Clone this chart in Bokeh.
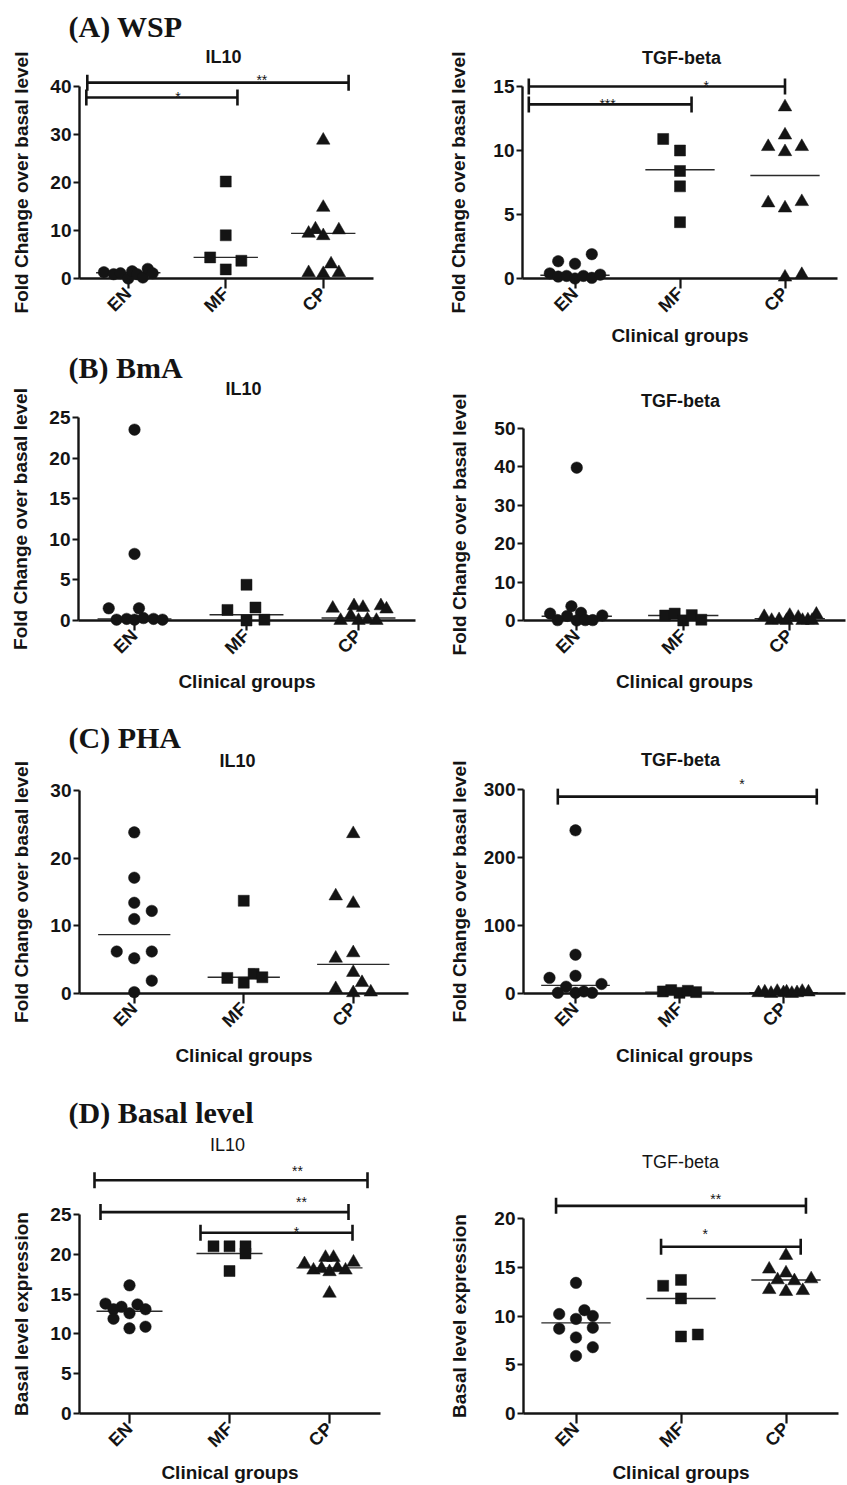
import math
from bokeh.plotting import figure
from bokeh.models import FixedTicker, Range1d
from bokeh.layouts import column, row
from bokeh.embed import file_html
from bokeh.resources import INLINE
from bokeh.core.properties import value

# ---------------- data ----------------
groups = ["EN", "MF", "CP"]
markers = ["circle", "square", "triangle"]

# (A) WSP - IL10
wsp_il10_en = [1.3, 0.9, 1.1, 0.0, 1.5, 0.9, 0.2, 2.0, 1.1]
wsp_il10_en_dx = [-0.25, -0.15, -0.08, 0.0, 0.04, 0.09, 0.15, 0.2, 0.25]
wsp_il10_mf = [20.2, 9.0, 4.4, 3.7, 1.9]
wsp_il10_mf_dx = [0.0, 0.0, -0.16, 0.16, 0.0]
wsp_il10_cp = [28.8, 14.8, 9.4, 10.3, 8.9, 10.1, 1.2, 1.0, 3.0, 1.2]
wsp_il10_cp_dx = [0.0, 0.0, -0.15, -0.08, 0.0, 0.16, -0.15, 0.0, 0.08, 0.16]
wsp_il10_lines = [1.2, 4.4, 9.4]
wsp_il10_yticks = [0, 10, 20, 30, 40]
wsp_il10_brackets = [(-0.42, 2.26, 40.8, "**", 1.37, 41.9),
                     (-0.43, 1.12, 37.7, "*", 0.51, 38.5)]

# (A) WSP - TGF-beta
wsp_tgf_en = [0.4, 1.35, 0.15, 0.2, 1.15, 0.0, 0.2, 1.9, 0.05, 0.3]
wsp_tgf_en_dx = [-0.24, -0.16, -0.16, -0.08, 0.0, 0.0, 0.08, 0.16, 0.16, 0.24]
wsp_tgf_mf = [10.9, 10.0, 8.4, 7.2, 4.4]
wsp_tgf_mf_dx = [-0.16, 0.0, 0.0, 0.0, 0.0]
wsp_tgf_cp = [13.4, 11.2, 10.3, 9.9, 10.3, 5.9, 5.5, 6.0, 0.1, 0.3]
wsp_tgf_cp_dx = [0.0, 0.0, -0.16, 0.0, 0.16, -0.16, 0.0, 0.16, 0.0, 0.16]
wsp_tgf_lines = [0.25, 8.5, 8.05]
wsp_tgf_yticks = [0, 5, 10, 15]
wsp_tgf_brackets = [(-0.44, 2.0, 15.0, "*", 1.25, 15.25),
                    (-0.44, 1.11, 13.6, "***", 0.31, 13.9)]

# (B) BmA - IL10
bma_il10_en = [23.5, 8.2, 1.5, 1.5, 0.1, 0.2, 0.1, 0.3, 0.2, 0.1]
bma_il10_en_dx = [0.0, 0.0, -0.23, 0.04, -0.16, -0.07, 0.0, 0.08, 0.17, 0.25]
bma_il10_mf = [4.4, 1.3, 1.6, 0.0, 0.1]
bma_il10_mf_dx = [0.0, -0.17, 0.08, 0.0, 0.16]
bma_il10_cp = [1.5, 0.0, 0.6, 1.8, 0.0, 1.6, 0.1, 0.0, 1.8, 1.4]
bma_il10_cp_dx = [-0.23, -0.16, -0.07, -0.04, 0.0, 0.04, 0.08, 0.16, 0.2, 0.25]
bma_il10_lines = [0.2, 0.7, 0.3]
bma_il10_yticks = [0, 5, 10, 15, 20, 25]
bma_il10_brackets = []

# (B) BmA - TGF-beta
bma_tgf_en = [39.8, 3.7, 1.8, 2.0, 1.2, 0.1, 0.0, 0.1, 0.1, 1.3]
bma_tgf_en_dx = [0.0, -0.05, -0.25, 0.04, -0.09, -0.18, 0.0, 0.08, 0.15, 0.24]
bma_tgf_mf = [1.3, 1.8, 0.0, 1.4, 0.2]
bma_tgf_mf_dx = [-0.17, -0.08, 0.0, 0.08, 0.17]
bma_tgf_cp = [1.0, 0.0, 0.2, 1.3, 0.0, 0.8, 0.0, 0.1, 1.6, 0.0]
bma_tgf_cp_dx = [-0.24, -0.17, -0.1, 0.0, -0.03, 0.08, 0.12, 0.17, 0.25, 0.21]
bma_tgf_lines = [1.1, 1.3, 0.5]
bma_tgf_yticks = [0, 10, 20, 30, 40, 50]
bma_tgf_brackets = []

# (C) PHA - IL10
pha_il10_en = [23.8, 17.1, 13.4, 12.2, 11.0, 6.2, 6.2, 5.2, 1.9, 0.2]
pha_il10_en_dx = [0.0, 0.0, 0.0, 0.16, 0.0, -0.16, 0.16, 0.0, 0.16, 0.0]
pha_il10_mf = [13.7, 2.3, 1.6, 2.9, 2.4]
pha_il10_mf_dx = [0.0, -0.15, 0.0, 0.09, 0.17]
pha_il10_cp = [23.6, 14.4, 13.3, 5.2, 6.0, 3.1, 1.6, 0.7, 0.1, 0.2]
pha_il10_cp_dx = [0.0, -0.16, 0.0, -0.16, 0.0, 0.0, 0.08, -0.16, 0.0, 0.16]
pha_il10_lines = [8.7, 2.4, 4.3]
pha_il10_yticks = [0, 10, 20, 30]
pha_il10_brackets = []

# (C) PHA - TGF-beta
pha_tgf_en = [240, 57, 23, 26, 10, 14, 1, 1, 3, 1]
pha_tgf_en_dx = [0.0, 0.0, -0.25, 0.0, -0.09, 0.25, -0.17, 0.0, 0.08, 0.16]
pha_tgf_mf = [3, 5, 1, 4, 2]
pha_tgf_mf_dx = [-0.16, -0.08, 0.0, 0.08, 0.16]
pha_tgf_cp = [1, 2, 0, 3, 1, 2, 0, 1, 3, 2]
pha_tgf_cp_dx = [-0.24, -0.18, -0.12, -0.06, 0.0, 0.03, 0.08, 0.13, 0.18, 0.24]
pha_tgf_lines = [12, 2, 1]
pha_tgf_yticks = [0, 100, 200, 300]
pha_tgf_brackets = [(-0.17, 2.32, 289.5, "*", 1.6, 313)]

# (D) Basal level - IL10
bas_il10_en = [16.1, 13.8, 13.4, 13.7, 13.1, 13.1, 12.6, 11.9, 10.7, 10.9]
bas_il10_en_dx = [0.0, -0.24, -0.08, 0.08, -0.16, 0.16, 0.0, -0.16, 0.0, 0.16]
bas_il10_mf = [21.0, 21.0, 21.0, 20.1, 17.9]
bas_il10_mf_dx = [-0.16, 0.0, 0.16, 0.16, 0.0]
bas_il10_cp = [18.8, 18.0, 18.2, 19.6, 17.8, 19.6, 18.3, 18.0, 19.0, 15.1]
bas_il10_cp_dx = [-0.25, -0.16, -0.08, -0.04, 0.0, 0.04, 0.08, 0.16, 0.24, 0.0]
bas_il10_lines = [12.85, 20.1, 18.3]
bas_il10_yticks = [0, 5, 10, 15, 20, 25]
bas_il10_brackets = [(-0.35, 2.38, 29.3, "**", 1.68, 30.9),
                     (-0.29, 2.19, 25.3, "**", 1.72, 27.0),
                     (0.71, 2.23, 22.7, "*", 1.67, 23.2)]

# (D) Basal level - TGF-beta
bas_tgf_en = [13.4, 10.2, 10.6, 9.7, 10.0, 8.7, 8.8, 7.8, 6.8, 5.9]
bas_tgf_en_dx = [0.0, -0.16, 0.08, 0.0, 0.16, -0.16, 0.16, 0.0, 0.16, 0.0]
bas_tgf_mf = [13.1, 13.7, 11.8, 7.9, 8.1]
bas_tgf_mf_dx = [-0.17, 0.0, 0.0, 0.0, 0.16]
bas_tgf_cp = [16.2, 14.8, 14.4, 13.7, 13.6, 13.8, 12.7, 12.5, 12.6]
bas_tgf_cp_dx = [0.0, -0.16, 0.0, -0.08, 0.08, 0.24, -0.16, 0.0, 0.16]
bas_tgf_lines = [9.3, 11.8, 13.7]
bas_tgf_yticks = [0, 5, 10, 15, 20]
bas_tgf_brackets = [(-0.19, 2.19, 21.3, "**", 1.33, 22.3),
                    (0.81, 2.14, 17.1, "*", 1.23, 18.75)]

# ---------------- styling / layout ----------------
SANS = "Liberation Sans"
SERIF = "Liberation Serif"
INK = "#141414"
FOLD = "Fold Change over basal level"
BASAL = "Basal level expression"
XLAB = "Clinical groups"
YTICK_PX = 19
XTICK_PX = 18
AXTITLE_PX = 19

COLS = {0: (0, 428), 1: (428, 419)}
ROWS = {"A": (0, 348), "B": (348, 698), "C": (698, 1068), "D": (1068, 1485)}

# col, row, y-axis px, x-axis end px, zero-line px, px/x-unit, px/y-unit,
# subtitle centre (px), letter-title centre y (px), x-label distance below zero line
GEO = {
    "wsp_il10": (0, "A", 79, 373, 278, 97.5, 4.8, (223, 56), 26, None),
    "wsp_tgf": (1, "A", 522, 837, 278, 105, 12.8, (681, 57), None, 56),
    "bma_il10": (0, "B", 78, 415, 620, 112, 8.12, (243, 388), 367, 60),
    "bma_tgf": (1, "B", 523, 845, 620, 106.5, 3.84, (680, 400), None, 60),
    "pha_il10": (0, "C", 79, 408, 993, 109.5, 6.77, (237, 760), 737, 61),
    "pha_tgf": (1, "C", 523, 845, 993, 104, 0.68, (680, 759), None, 61),
    "bas_il10": (0, "D", 79, 380, 1413, 100, 7.96, (227, 1144), 1112, 58),
    "bas_tgf": (1, "D", 523, 838, 1413, 105, 9.75, (680, 1161), None, 58),
}
LETTER_X = 68


def build(key, vals, dxs, lines, brackets, yticks, sub, sub_bold, ylabel, xlabel, letter):
    col, rk, fl, x_end, y0, ppx, ppy, sub_xy, letter_y, xdist = GEO[key]
    cx0, fw = COLS[col]
    rt, rb = ROWS[rk]
    fh = rb - rt
    x_lo = -0.5 - (fl - cx0) / ppx
    x_hi = x_lo + fw / ppx
    y_hi = (y0 - rt) / ppy
    y_lo = -(rb - y0) / ppy

    def dx(px):
        return x_lo + (px - cx0) / ppx

    def dy(py):
        return (y0 - py) / ppy

    p = figure(width=fw, height=fh, x_range=Range1d(x_lo, x_hi), y_range=Range1d(y_lo, y_hi),
               output_backend="svg", toolbar_location=None, title=None, min_border=0)
    p.outline_line_color = None
    p.xgrid.visible = False
    p.ygrid.visible = False
    p.background_fill_color = "white"
    p.border_fill_color = "white"

    # x axis, drawn on the zero line
    xa = p.xaxis[0]
    xa.fixed_location = 0
    xa.bounds = (-0.5, dx(x_end))
    xa.ticker = FixedTicker(ticks=[0, 1, 2])
    xa.major_label_overrides = {0: groups[0], 1: groups[1], 2: groups[2]}
    xa.major_label_orientation = math.pi / 4
    xa.axis_line_width = 2.4
    xa.axis_line_color = INK
    xa.major_tick_in = 0
    xa.major_tick_out = 10
    xa.major_tick_line_width = 2.2
    xa.major_tick_line_color = INK
    xa.minor_tick_line_color = None
    xa.major_label_standoff = 2
    xa.major_label_text_font = SANS
    xa.major_label_text_font_size = f"{XTICK_PX}px"
    xa.major_label_text_font_style = "bold"
    xa.major_label_text_color = INK
    if xlabel:
        xa.axis_label = xlabel
        xa.axis_label_text_font = SANS
        xa.axis_label_text_font_size = f"{AXTITLE_PX}px"
        xa.axis_label_text_font_style = "bold"
        xa.axis_label_text_color = INK
        xa.axis_label_standoff = int(round(xdist - 57))

    # y axis, drawn at the left edge of the first group
    ya = p.yaxis[0]
    ya.fixed_location = -0.5
    ya.ticker = FixedTicker(ticks=yticks)
    ya.bounds = (0, yticks[-1])
    ya.axis_line_width = 2.4
    ya.axis_line_color = INK
    ya.major_tick_in = 0
    ya.major_tick_out = 6
    ya.major_tick_line_width = 2.2
    ya.major_tick_line_color = INK
    ya.minor_tick_line_color = None
    ya.major_label_standoff = 2
    ya.major_label_text_font = SANS
    ya.major_label_text_font_size = f"{YTICK_PX}px"
    ya.major_label_text_font_style = "bold"
    ya.major_label_text_color = INK
    ya.axis_label = ylabel
    ya.axis_label_text_font = SANS
    ya.axis_label_text_font_size = f"{AXTITLE_PX}px"
    ya.axis_label_text_font_style = "bold"
    ya.axis_label_text_color = INK
    ndig = len(str(yticks[-1]))
    target = 55 if col == 0 else 61
    ya.axis_label_standoff = int(round(target - 6 - 2 - ndig * 0.556 * YTICK_PX - 10.5))

    # titles
    p.text(x=[dx(sub_xy[0])], y=[dy(sub_xy[1])], text=[sub], text_font=value(SANS),
           text_font_size=value("18px"), text_font_style="bold" if sub_bold else "normal",
           text_color=INK, text_align="center", text_baseline="middle")
    if letter:
        p.text(x=[dx(LETTER_X)], y=[dy(letter_y)], text=[letter], text_font=value(SERIF),
               text_font_size=value("30px"), text_font_style="bold", text_color=INK,
               text_align="left", text_baseline="middle")

    # median lines
    p.segment(x0=[i - 0.33 for i in range(3)], x1=[i + 0.33 for i in range(3)],
              y0=lines, y1=lines, line_color="#2a2a2a", line_width=1.4)

    # points
    for i in range(3):
        size = {"circle": 11.5, "square": 11, "triangle": 13.5}[markers[i]]
        p.scatter(x=[i + d for d in dxs[i]], y=vals[i], marker=markers[i], size=size,
                  fill_color=INK, line_color=INK, line_width=0.5)

    # significance brackets
    if brackets:
        bx0 = [b[0] for b in brackets]
        bx1 = [b[1] for b in brackets]
        by = [b[2] for b in brackets]
        p.segment(x0=bx0, x1=bx1, y0=by, y1=by, line_color=INK, line_width=2.6)
        p.scatter(x=bx0 + bx1, y=by + by, marker="dash", angle=math.pi / 2, size=16,
                  line_color=INK, line_width=2.6)
        p.text(x=[b[4] for b in brackets], y=[b[5] - 3 / ppy for b in brackets],
               text=[b[3] for b in brackets], text_font=value(SANS), text_font_size=value("14px"),
               text_color=INK, text_align="center", text_baseline="middle")
    return p


a1 = build("wsp_il10", [wsp_il10_en, wsp_il10_mf, wsp_il10_cp],
           [wsp_il10_en_dx, wsp_il10_mf_dx, wsp_il10_cp_dx], wsp_il10_lines, wsp_il10_brackets,
           wsp_il10_yticks, "IL10", True, FOLD, None, "(A) WSP")
a2 = build("wsp_tgf", [wsp_tgf_en, wsp_tgf_mf, wsp_tgf_cp],
           [wsp_tgf_en_dx, wsp_tgf_mf_dx, wsp_tgf_cp_dx], wsp_tgf_lines, wsp_tgf_brackets,
           wsp_tgf_yticks, "TGF-beta", True, FOLD, XLAB, None)
b1 = build("bma_il10", [bma_il10_en, bma_il10_mf, bma_il10_cp],
           [bma_il10_en_dx, bma_il10_mf_dx, bma_il10_cp_dx], bma_il10_lines, bma_il10_brackets,
           bma_il10_yticks, "IL10", True, FOLD, XLAB, "(B) BmA")
b2 = build("bma_tgf", [bma_tgf_en, bma_tgf_mf, bma_tgf_cp],
           [bma_tgf_en_dx, bma_tgf_mf_dx, bma_tgf_cp_dx], bma_tgf_lines, bma_tgf_brackets,
           bma_tgf_yticks, "TGF-beta", True, FOLD, XLAB, None)
c1 = build("pha_il10", [pha_il10_en, pha_il10_mf, pha_il10_cp],
           [pha_il10_en_dx, pha_il10_mf_dx, pha_il10_cp_dx], pha_il10_lines, pha_il10_brackets,
           pha_il10_yticks, "IL10", True, FOLD, XLAB, "(C) PHA")
c2 = build("pha_tgf", [pha_tgf_en, pha_tgf_mf, pha_tgf_cp],
           [pha_tgf_en_dx, pha_tgf_mf_dx, pha_tgf_cp_dx], pha_tgf_lines, pha_tgf_brackets,
           pha_tgf_yticks, "TGF-beta", True, FOLD, XLAB, None)
d1 = build("bas_il10", [bas_il10_en, bas_il10_mf, bas_il10_cp],
           [bas_il10_en_dx, bas_il10_mf_dx, bas_il10_cp_dx], bas_il10_lines, bas_il10_brackets,
           bas_il10_yticks, "IL10", False, BASAL, XLAB, "(D) Basal level")
d2 = build("bas_tgf", [bas_tgf_en, bas_tgf_mf, bas_tgf_cp],
           [bas_tgf_en_dx, bas_tgf_mf_dx, bas_tgf_cp_dx], bas_tgf_lines, bas_tgf_brackets,
           bas_tgf_yticks, "TGF-beta", False, BASAL, XLAB, None)

layout = column(row(a1, a2), row(b1, b2), row(c1, c2), row(d1, d2))
open("out.html", "w").write(file_html(layout, INLINE))
